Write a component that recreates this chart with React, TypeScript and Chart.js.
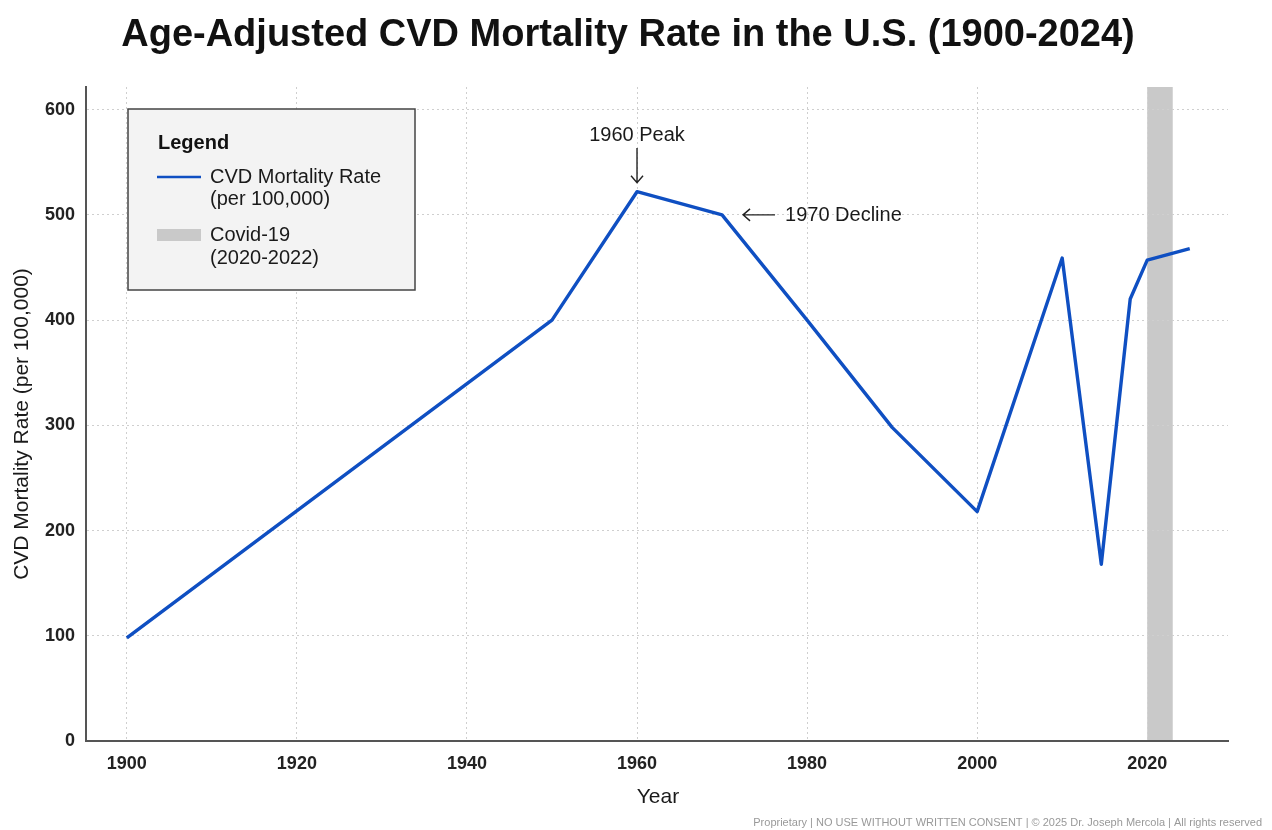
import React, { useEffect, useRef } from "react";
import { Chart, registerables } from "chart.js";

Chart.register(...registerables);

const years = [1900, 1950, 1960, 1970, 1980, 1990, 2000, 2010, 2014.6, 2018, 2020, 2025];
const rates = [98, 400, 522, 500, 400, 298, 218, 459, 168, 420, 457, 468];
const covidStart = 2020;
const covidEnd = 2023;
const xTicks = [1900, 1920, 1940, 1960, 1980, 2000, 2020];
const yTicks = [0, 100, 200, 300, 400, 500, 600];

const FONT = "'Liberation Sans', Arial, Helvetica, sans-serif";
const LINE = "#0f4fc2";

const overlay = {
  id: "overlay",
  beforeDraw(chart: any) {
    const { ctx, chartArea, scales } = chart;
    const x0 = scales.x.getPixelForValue(covidStart);
    const x1 = scales.x.getPixelForValue(covidEnd);
    ctx.save();
    ctx.fillStyle = "#c9c9c9";
    ctx.fillRect(x0, chartArea.top, x1 - x0, chartArea.bottom - chartArea.top);
    ctx.restore();
  },
  afterDraw(chart: any) {
    const { ctx, chartArea, scales } = chart;
    const W = chart.width;
    ctx.save();
    // title
    ctx.fillStyle = "#111";
    ctx.textAlign = "center";
    ctx.textBaseline = "middle";
    ctx.font = `bold 38px ${FONT}`;
    ctx.fillText("Age-Adjusted CVD Mortality Rate in the U.S. (1900-2024)", 628, 36);

    // axis titles
    ctx.font = `21px ${FONT}`;
    ctx.fillStyle = "#1a1a1a";
    ctx.fillText("Year", (chartArea.left + chartArea.right) / 2 + 1, 797);
    ctx.save();
    ctx.translate(22, 424);
    ctx.rotate(-Math.PI / 2);
    ctx.fillText("CVD Mortality Rate (per 100,000)", 0, 0);
    ctx.restore();

    // annotations
    const px = scales.x.getPixelForValue(1960);
    const py = scales.y.getPixelForValue(522);
    ctx.font = `20px ${FONT}`;
    ctx.fillStyle = "#1a1a1a";
    ctx.fillText("1960 Peak", px, 135);
    ctx.strokeStyle = "#222";
    ctx.lineWidth = 1.4;
    ctx.beginPath();
    ctx.moveTo(px, 148);
    ctx.lineTo(px, py - 9);
    ctx.moveTo(px - 6, py - 16);
    ctx.lineTo(px, py - 9);
    ctx.lineTo(px + 6, py - 16);
    ctx.stroke();

    const dx = scales.x.getPixelForValue(1970);
    const dy = scales.y.getPixelForValue(500);
    ctx.beginPath();
    ctx.moveTo(dx + 53, dy);
    ctx.lineTo(dx + 21, dy);
    ctx.moveTo(dx + 28, dy - 6);
    ctx.lineTo(dx + 21, dy);
    ctx.lineTo(dx + 28, dy + 6);
    ctx.stroke();
    ctx.textAlign = "left";
    ctx.fillText("1970 Decline", dx + 63, dy + 1);

    // legend
    ctx.fillStyle = "#f3f3f3";
    ctx.fillRect(128, 109, 287, 181);
    ctx.strokeStyle = "#444";
    ctx.lineWidth = 1.5;
    ctx.strokeRect(128, 109, 287, 181);
    ctx.fillStyle = "#111";
    ctx.font = `bold 20px ${FONT}`;
    ctx.fillText("Legend", 158, 143);
    ctx.strokeStyle = LINE;
    ctx.lineWidth = 2.5;
    ctx.beginPath();
    ctx.moveTo(157, 177);
    ctx.lineTo(201, 177);
    ctx.stroke();
    ctx.fillStyle = "#c9c9c9";
    ctx.fillRect(157, 229, 44, 12);
    ctx.fillStyle = "#1a1a1a";
    ctx.font = `20px ${FONT}`;
    ctx.fillText("CVD Mortality Rate", 210, 177);
    ctx.fillText("(per 100,000)", 210, 199);
    ctx.fillText("Covid-19", 210, 235);
    ctx.fillText("(2020-2022)", 210, 258);

    // footer
    ctx.font = `11px ${FONT}`;
    ctx.fillStyle = "#999";
    ctx.textAlign = "right";
    ctx.fillText(
      "Proprietary | NO USE WITHOUT WRITTEN CONSENT | \u00A9 2025 Dr. Joseph Mercola | All rights reserved",
      W - 10,
      823
    );
    ctx.restore();
  },
};

export default function App() {
  const ref = useRef<HTMLCanvasElement | null>(null);
  useEffect(() => {
    if (!ref.current) return;
    const chart = new Chart(ref.current, {
      type: "line",
      data: {
        datasets: [
          {
            label: "CVD Mortality Rate (per 100,000)",
            data: years.map((y, i) => ({ x: y, y: rates[i] })),
            borderColor: LINE,
            borderWidth: 3.4,
            borderJoinStyle: "round",
            pointRadius: 0,
            tension: 0,
            fill: false,
          },
        ],
      },
      options: {
        responsive: false,
        animation: false,
        layout: { padding: { top: 87, right: 44, left: 0, bottom: 0 } },
        plugins: { legend: { display: false }, title: { display: false }, tooltip: { enabled: false } },
        scales: {
          x: {
            type: "linear",
            min: 1895.2,
            max: 2029.5,
            afterFit: (s: any) => {
              s.height = 89;
            },
            afterBuildTicks: (s: any) => {
              s.ticks = xTicks.map((v) => ({ value: v }));
            },
            ticks: {
              font: { family: FONT, size: 18, weight: "bold" },
              color: "#222",
              padding: 12,
              maxRotation: 0,
              callback: (v: any) => String(v),
            },
            grid: {
              color: "#cfcfcf",
              lineWidth: 1,
              drawTicks: false,
            },
            border: { display: true, color: "#555", width: 2, dash: [2, 3] },
          },
          y: {
            type: "linear",
            min: 0,
            max: 621.5,
            afterFit: (s: any) => {
              s.width = 86;
            },
            afterBuildTicks: (s: any) => {
              s.ticks = yTicks.map((v) => ({ value: v }));
            },
            ticks: {
              font: { family: FONT, size: 18, weight: "bold" },
              color: "#222",
              padding: 11,
              callback: (v: any) => String(v),
            },
            grid: {
              color: "#cfcfcf",
              lineWidth: 1,
              drawTicks: false,
            },
            border: { display: true, color: "#555", width: 2, dash: [2, 3] },
          },
        },
      },
      plugins: [overlay],
    } as any);
    return () => chart.destroy();
  }, []);
  return (
    <div style={{ position: "fixed", left: 0, top: 0, width: 1272, height: 830, background: "#fff" }}>
      <canvas ref={ref} width={1272} height={830} style={{ width: 1272, height: 830 }} />
    </div>
  );
}
